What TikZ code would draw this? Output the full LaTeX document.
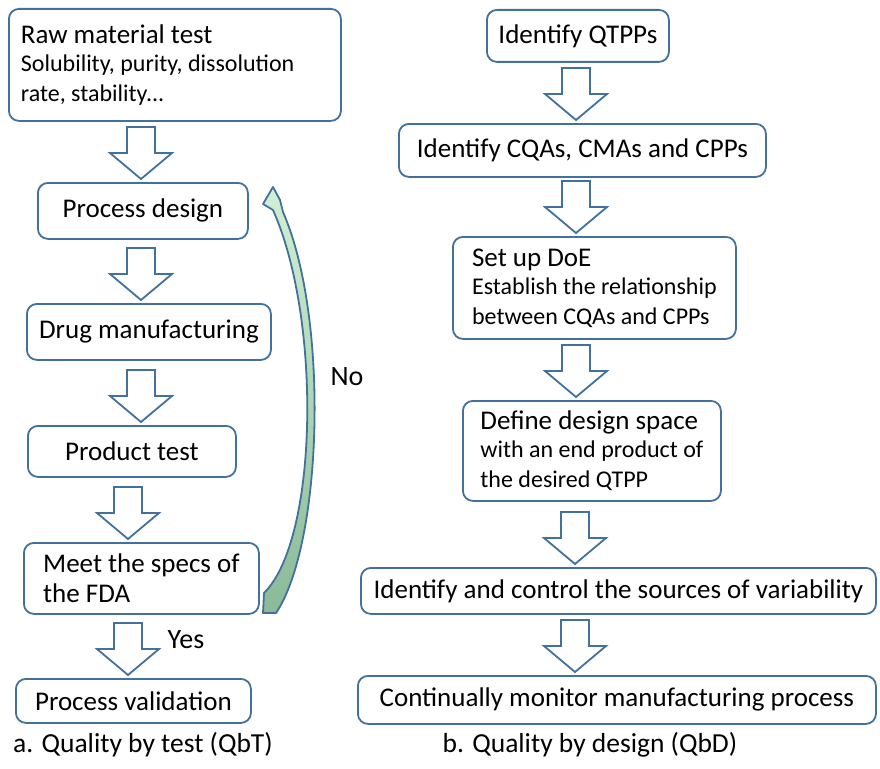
\documentclass[tikz,border=0pt]{standalone}
\usepackage{fontspec}
\setmainfont{Carlito}
\usetikzlibrary{calc}

\definecolor{boxblue}{RGB}{65,113,156}
\definecolor{curvetop}{RGB}{210,240,212}
\definecolor{curvebot}{RGB}{138,186,152}

\newcommand{\subfont}{\fontsize{24}{30}\selectfont}

% hollow block arrow in column #1, ending just above node #2
\newcommand{\blockarrow}[2]{%
  \draw[hollowarrow] let \p1 = (#2.north) in
    (#1pt-14pt,\y1+55pt) -- (#1pt+14pt,\y1+55pt) -- (#1pt+14pt,\y1+29pt)
    -- (#1pt+31pt,\y1+29pt) -- (#1pt,\y1+3pt) -- (#1pt-31pt,\y1+29pt)
    -- (#1pt-14pt,\y1+29pt) -- cycle;}

\begin{document}
\begin{tikzpicture}[x=1pt, y=-1pt,
    stepbox/.style = {draw = boxblue, line width = 1.8pt, rounded corners = 10pt,
                      fill = white, anchor = north west, inner sep = 0pt,
                      font = \fontsize{27}{30}\selectfont},
    hollowarrow/.style = {draw = boxblue, line width = 1.8pt, fill = white, line join = miter},
    curvearrow/.style = {draw = boxblue, line width = 1.8pt, top color = curvetop,
                         bottom color = curvebot, line join = round},
    caption/.style = {font = \fontsize{27.5}{30}\selectfont}]
  \useasboundingbox (0,0) rectangle (880,768);
  \fill[white] (0,0) rectangle (880,768);

  % a. Quality by test
  \node[stepbox, minimum width = 332pt, minimum height = 112pt, text width = 308pt,
        inner xsep = 12pt, align = left] (raw) at (8,8)
        {\spaceskip=0pt \xspaceskip=0pt Raw material test\\[-2pt]
         \subfont Solubility, purity, dissolution\\ \subfont rate, stability...};
  \node[stepbox, minimum width = 210pt, minimum height = 56pt] (design) at (37,182) {Process design\hspace{17pt}};
  \node[stepbox, minimum width = 244pt, minimum height = 56pt] (manuf) at (26,303) {Drug manufacturing};
  \node[stepbox, minimum width = 208pt, minimum height = 51pt] (ptest) at (27,425) {Product test\hspace{17pt}};
  \node[stepbox, minimum width = 235pt, minimum height = 71pt, align = left] (specs) at (23,542)
        {Meet the specs of\hspace{13pt}\\ the FDA};
  \node[stepbox, minimum width = 235pt, minimum height = 44pt] (valid) at (15,678) {Process validation\hspace{13pt}};

  \blockarrow{141}{design}
  \blockarrow{141}{manuf}
  \blockarrow{141}{ptest}
  \blockarrow{128}{specs}
  \blockarrow{128}{valid}

  \draw[curvearrow] (263,613) -- (276,613) .. controls (322,545) and (330,320) .. (283,212)
    -- (280,200) -- (273,187) -- (263,204) -- (273,210)
    .. controls (322,320) and (318,540) .. (264,593) -- cycle;

  \node[caption, font = \fontsize{28}{30}\selectfont] (yes) at (186,640) {Yes};
  \node[caption, font = \fontsize{28}{30}\selectfont] (no) at (347,377) {No};
  \node[caption] (capa) at (143,745) {a. Quality by test (QbT)};

  % b. Quality by design
  \node[stepbox, minimum width = 182pt, minimum height = 52pt] (qtpp) at (486,9) {Identify QTPPs};
  \node[stepbox, minimum width = 367pt, minimum height = 53pt] (cqa) at (398,123) {Identify CQAs, CMAs and CPPs};
  \node[stepbox, minimum width = 283pt, minimum height = 102pt, align = left] (doe) at (452,236)
        {Set up DoE\\[-2pt]
         \subfont Establish the relationship\\ \subfont between CQAs and CPPs};
  \node[stepbox, minimum width = 258pt, minimum height = 100pt, align = left] (space) at (462,400)
        {Define design space\\[-2pt]
         \subfont with an end product of\\ \subfont the desired QTPP};
  \node[stepbox, minimum width = 515pt, minimum height = 46pt] (source) at (360,567)
        {Identify and control the sources of variability};
  \node[stepbox, minimum width = 518pt, minimum height = 48pt] (monitor) at (357,675)
        {Continually monitor manufacturing process};

  \blockarrow{576}{cqa}
  \blockarrow{576}{doe}
  \blockarrow{576}{space}
  \blockarrow{575}{source}
  \blockarrow{575}{monitor}

  \node[caption] (capb) at (590,745) {b. Quality by design (QbD)};
\end{tikzpicture}
\end{document}
